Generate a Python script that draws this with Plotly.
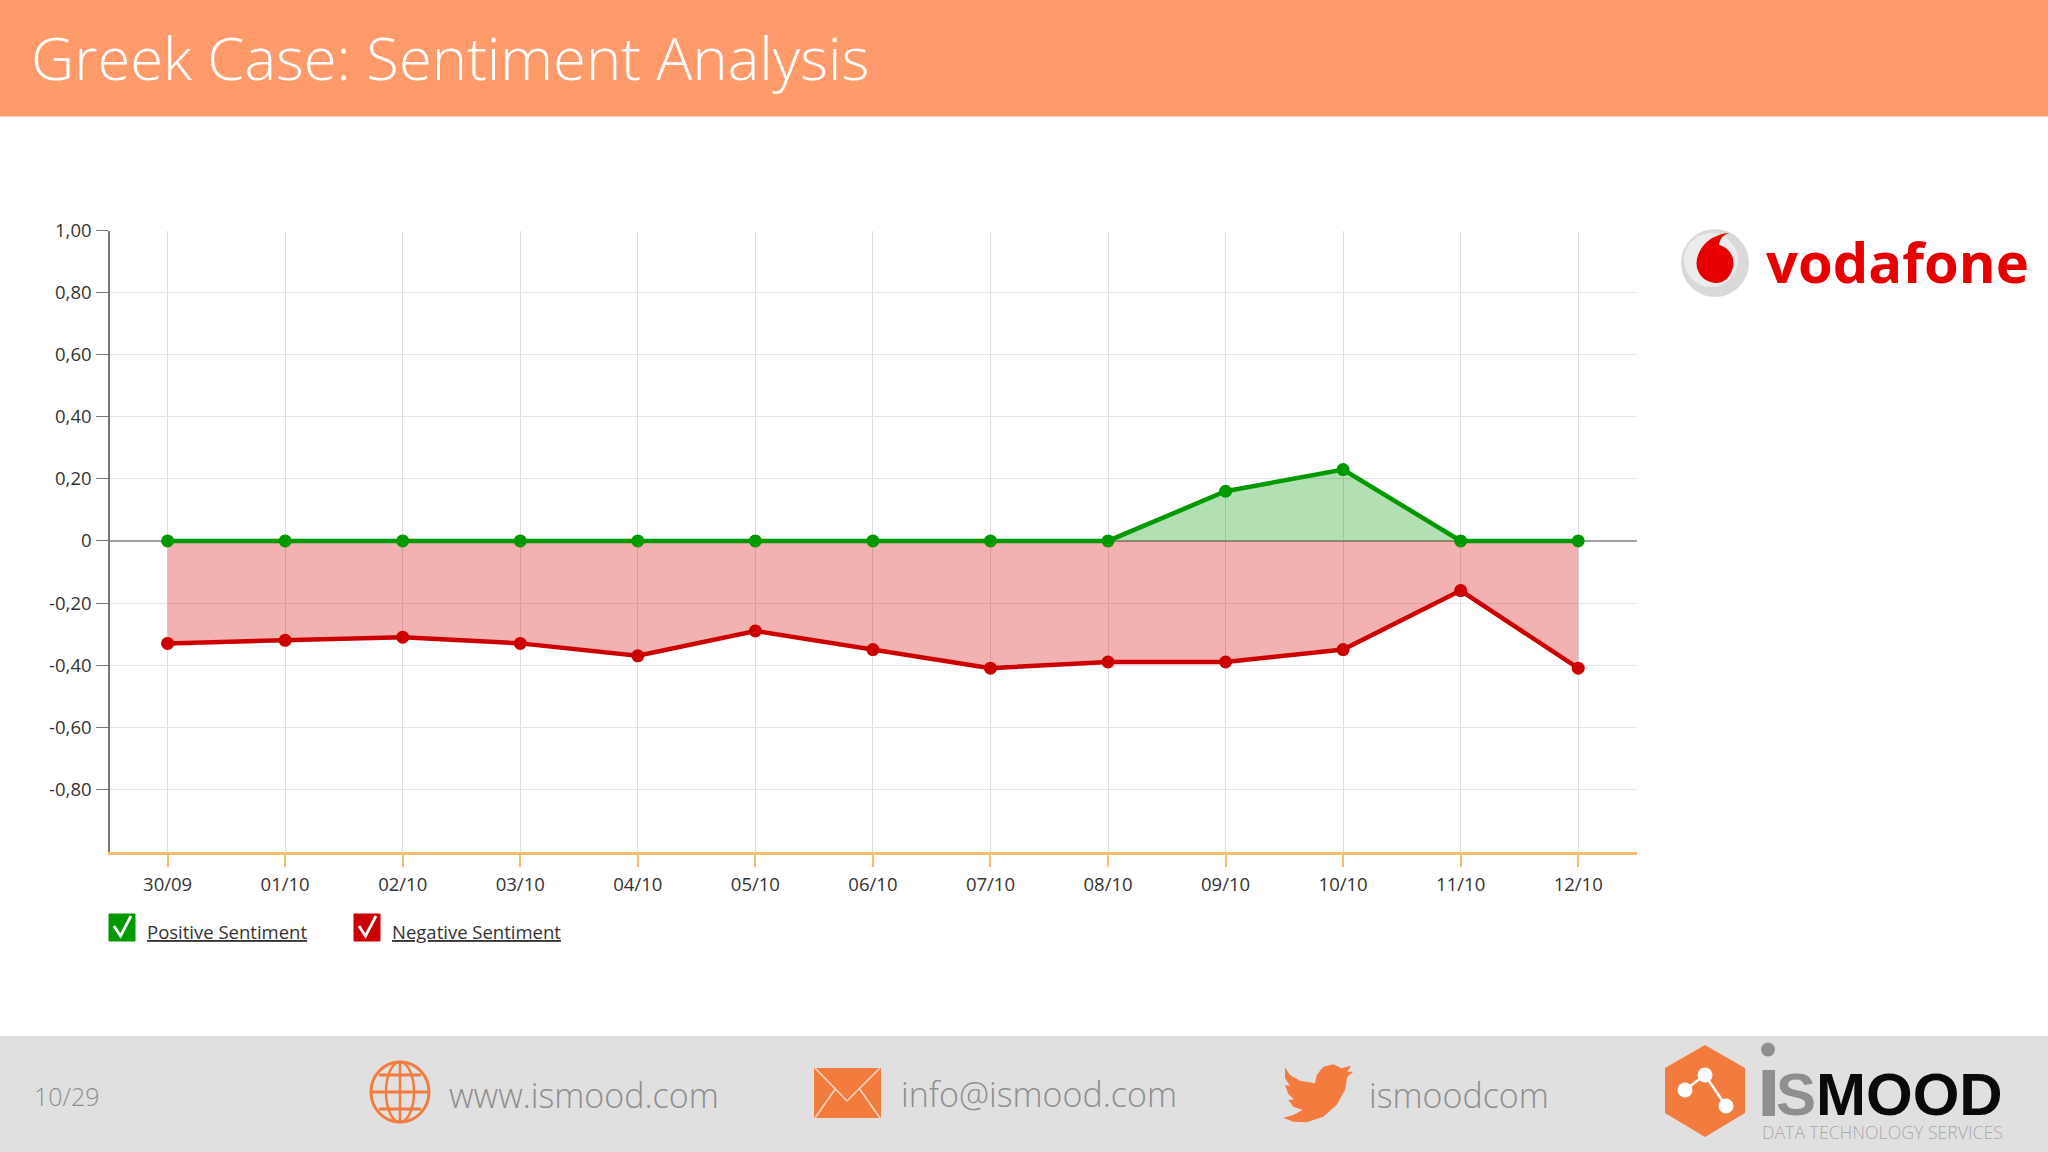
import plotly.graph_objects as go

dates = ["30/09","01/10","02/10","03/10","04/10","05/10","06/10","07/10","08/10","09/10","10/10","11/10","12/10"]
positive = [0,0,0,0,0,0,0,0,0,0.16,0.23,0,0]
negative = [-0.33,-0.32,-0.31,-0.33,-0.37,-0.29,-0.35,-0.41,-0.39,-0.39,-0.35,-0.16,-0.41]
y_ticks = [1,0.8,0.6,0.4,0.2,0,-0.2,-0.4,-0.6,-0.8]
y_labels = ["1,00","0,80","0,60","0,40","0,20","0","-0,20","-0,40","-0,60","-0,80"]

W, H = 2048, 1152
ORANGE = "#F47B3E"
def px(x): return x / W
def py(y): return 1 - y / H

shapes, annots = [], []
def rect(x0, y0, x1, y1, color, layer="below", line=None, lw=0):
    shapes.append(dict(type="rect", xref="paper", yref="paper", x0=px(x0), x1=px(x1), y0=py(y0), y1=py(y1),
                       fillcolor=color, line=dict(width=lw, color=line or color), layer=layer))
def circle(cx, cy, r, color, line=None, lw=0, ry=None):
    ry = ry or r
    shapes.append(dict(type="circle", xref="paper", yref="paper", x0=px(cx-r), x1=px(cx+r), y0=py(cy+ry), y1=py(cy-ry),
                       fillcolor=color, line=dict(width=lw, color=line or color), layer="above"))
def path(points, color=None, line=None, lw=0, close=True):
    d = ""
    for p in points:
        if len(p) == 2:
            d += f"{'L' if d else 'M'}{px(p[0]):.5f},{py(p[1]):.5f} "
        else:
            d += f"C{px(p[0]):.5f},{py(p[1]):.5f} {px(p[2]):.5f},{py(p[3]):.5f} {px(p[4]):.5f},{py(p[5]):.5f} "
    if close: d += "Z"
    shapes.append(dict(type="path", xref="paper", yref="paper", path=d, fillcolor=color or "rgba(0,0,0,0)",
                       line=dict(width=lw, color=line or "rgba(0,0,0,0)"), layer="above"))
def text(x, y, s, size, color, anchor="left", family="Open Sans", weight=None):
    f = dict(size=size, color=color, family=family)
    if weight: f["weight"] = weight
    annots.append(dict(xref="paper", yref="paper", x=px(x), y=py(y), text=s, showarrow=False, font=f,
                       xanchor=anchor, yanchor="middle", align=anchor, borderpad=0, borderwidth=0))

# header and footer bands
rect(0, 0, W, 116.5, "#FF9B6B")
rect(0, 1036, W, H, "#E0E0E1")
text(31, 56.5, "Greek Case: Sentiment Analysis", 59.7, "#FFFFFF", weight=300)

# legend
for x0, col in [(109, "#009900"), (354, "#CC0000")]:
    rect(x0, 914, x0+26, 941, col, layer="above", line=col, lw=1)
    path([(x0+5, 926), (x0+11.5, 936), (x0+22, 916)], line="#FFFFFF", lw=2.8, close=False)
text(147, 931, "<u>Positive Sentiment</u>", 18.5, "#333333")
text(392, 931, "<u>Negative Sentiment</u>", 18.5, "#333333")

# vodafone logo
circle(1715, 263, 34, "#D9D9D9")
circle(1711, 260, 27, "#ECECEC")
circle(1715, 263, 18.5, "#E60000")
path([(1727, 233), (1707, 236, 1697, 250, 1697, 263), (1697, 280, 1712, 283, 1716, 283),
      (1729, 283, 1733, 270, 1733, 263), (1733, 252, 1722, 248, 1719, 246), (1719, 241, 1722, 235, 1729, 233)],
     color="#E60000")
text(1766, 261, "vodafone", 56.2, "#E60000", family="Open Sans", weight=700)

# footer icons and text
circle(400, 1092, 29, "rgba(0,0,0,0)", line=ORANGE, lw=3, ry=30)
circle(400, 1092, 14, "rgba(0,0,0,0)", line=ORANGE, lw=2.5, ry=30)
path([(400, 1062), (400, 1122)], line=ORANGE, lw=2.5, close=False)
for yy, half in [(1075, 21), (1092, 29), (1109, 21)]:
    path([(400-half, yy), (400+half, yy)], line=ORANGE, lw=3, close=False)

rect(814, 1068, 881, 1118, ORANGE, layer="above")
path([(815, 1068), (847, 1101), (880, 1068)], line="#F2D8C8", lw=1.5, close=False)
path([(815, 1118), (836, 1088)], line="#F2D8C8", lw=1.5, close=False)
path([(880, 1118), (859, 1088)], line="#F2D8C8", lw=1.5, close=False)

bird = [(45,52),(60,75),(90,92),(135,100),(140,75),(160,50),(190,43),(215,55),(243,47),(232,65),(250,65),(232,80),
        (225,120),(200,165),(160,200),(110,217),(70,215),(40,203),(70,195),(98,180),(70,170),(55,150),(72,148),
        (55,132),(45,105),(60,108),(45,85)]
path([(1270 + a / 3, 1050 + b / 3) for a, b in bird], color=ORANGE)

text(34, 1096, "10/29", 25, "#8E8E8E", weight=300)
text(449, 1095, "www.ismood.com", 34, "#8E8E8E", weight=300)
text(901, 1094, "info@ismood.com", 34, "#8E8E8E", weight=300)
text(1369, 1095, "ismoodcom", 34, "#8E8E8E", weight=300)

# iSMOOD logo
path([(1705, 1045), (1745, 1068), (1745, 1113), (1705, 1137), (1665, 1113), (1665, 1068)], color=ORANGE)
path([(1685, 1090), (1705, 1075), (1726, 1106)], line="#FFFFFF", lw=2.5, close=False)
circle(1685, 1090, 7.5, "#FFFFFF")
circle(1705, 1075, 7.5, "#FFFFFF")
circle(1726, 1106, 7.5, "#FFFFFF")
circle(1768, 1049.5, 7, "#8F8F90")
rect(1762.5, 1070, 1775, 1116, "#8F8F90", layer="above")
text(1776, 1094, "<span style='color:#8F8F90'>S</span>MOOD", 60, "#0A0A0A", family="Liberation Sans", weight=700)
text(1762, 1132, "DATA TECHNOLOGY SERVICES", 17.7, "#A9A9A9", weight=300)

fig = go.Figure()
fig.add_trace(go.Scatter(x=dates, y=negative, mode="lines+markers", name="Negative Sentiment",
                         fill="tozeroy", fillcolor="rgba(214,0,0,0.30)",
                         line=dict(color="#CC0000", width=4.5), marker=dict(color="#CC0000", size=13)))
fig.add_trace(go.Scatter(x=dates, y=positive, mode="lines+markers", name="Positive Sentiment",
                         fill="tozeroy", fillcolor="rgba(0,153,0,0.30)",
                         line=dict(color="#009900", width=4.5), marker=dict(color="#009900", size=13)))

fig.update_layout(
    width=W, height=H, margin=dict(l=0, r=0, t=0, b=0, pad=0, autoexpand=False), paper_bgcolor="white", plot_bgcolor="white",
    showlegend=False, shapes=shapes, annotations=annots,
    font=dict(family="Open Sans", size=18.5, color="#333333"),
    xaxis=dict(domain=[px(110), px(1637)], type="category", range=[-0.49, 12.5], categoryorder="array", categoryarray=dates,
               showgrid=True, gridcolor="#DEDDE6", gridwidth=1, showline=True, linecolor="#F8BC6C", linewidth=2.5,
               ticks="outside", ticklen=12, tickcolor="#F8BC6C", tickwidth=1.5, ticklabelstandoff=2, zeroline=False,
               tickfont=dict(size=18.5, color="#333333")),
    yaxis=dict(domain=[py(852), py(230.5)], range=[-1.002, 1], tickmode="array", tickvals=y_ticks, ticktext=y_labels,
               showgrid=True, gridcolor="#E4E4EA", gridwidth=1, showline=True, linecolor="#777777", linewidth=1.5,
               ticks="outside", ticklen=12, tickcolor="#777777", tickwidth=1, ticklabelstandoff=1,
               zeroline=True, zerolinecolor="#A0A0A0", zerolinewidth=1.5, tickfont=dict(size=18.5, color="#333333")),
)
fig.write_html("out.html", config=dict(displayModeBar=False), post_script="document.body.style.margin='0';document.body.style.overflow='hidden';")
